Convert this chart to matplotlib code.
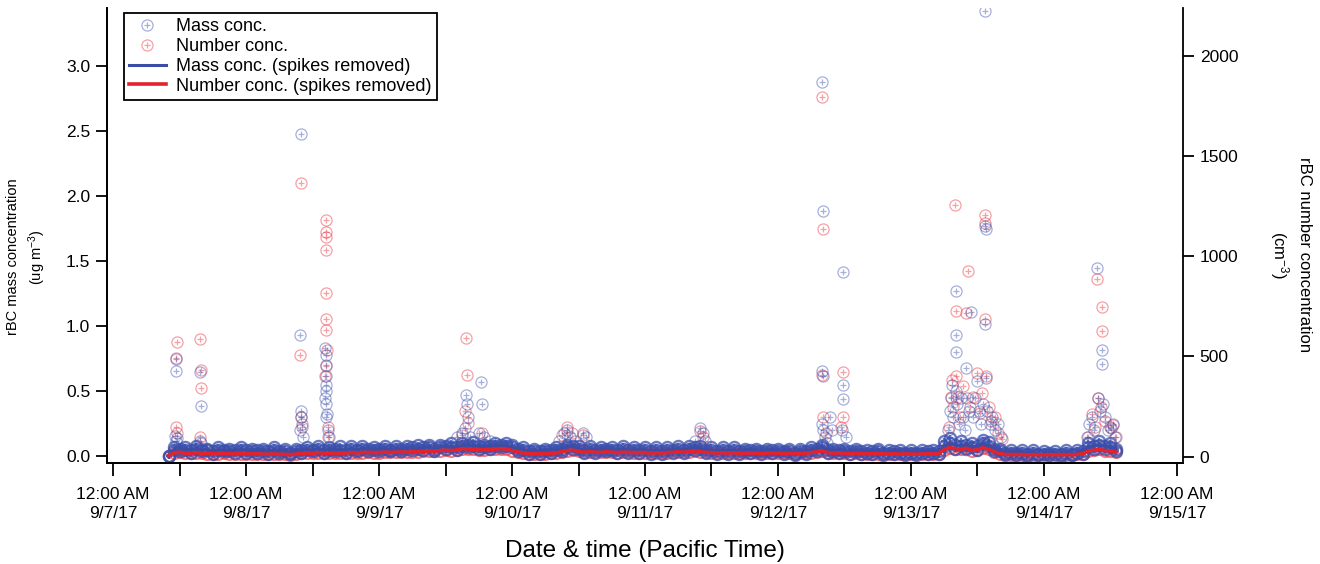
# -*- coding: utf-8 -*-
import numpy as np
import matplotlib
matplotlib.use("Agg")
import matplotlib.pyplot as plt
import matplotlib.dates as mdates
from matplotlib.ticker import FuncFormatter, MultipleLocator

plt.rcParams['font.family'] = ['Liberation Sans', 'DejaVu Sans']
plt.rcParams['mathtext.default'] = 'regular'

#time origin, hours are counted from 9/7/17 12:00 AM
start = np.datetime64('2017-09-07T00:00')

#hourly background values (9/7 10h ... 9/14 13h)
base_hours = np.arange(10, 182)
mass_base = [
    0.00, 0.05, 0.06, 0.05, 0.05, 0.06, 0.05, 0.05, 0.04, 0.05, 0.05, 0.04, 0.05, 0.05,
    0.05, 0.04, 0.05, 0.04, 0.04, 0.05, 0.04, 0.04, 0.03, 0.04, 0.05, 0.05,
    0.05, 0.06, 0.05, 0.05, 0.06, 0.05, 0.05, 0.06, 0.05, 0.06, 0.06, 0.05,
    0.06, 0.06, 0.05, 0.06, 0.06, 0.06, 0.07, 0.06, 0.07, 0.07, 0.06, 0.07,
    0.08, 0.07, 0.07, 0.08, 0.09, 0.08, 0.08, 0.07, 0.08, 0.08, 0.09, 0.08,
    0.07, 0.06, 0.05, 0.04, 0.04, 0.04, 0.04, 0.05, 0.05, 0.06, 0.07, 0.08,
    0.06, 0.05, 0.06, 0.05, 0.05, 0.06, 0.05, 0.05, 0.06, 0.05, 0.05, 0.05,
    0.05, 0.04, 0.05, 0.04, 0.05, 0.05, 0.06, 0.05, 0.06, 0.07, 0.06, 0.05,
    0.05, 0.04, 0.05, 0.04, 0.05, 0.04, 0.04, 0.05, 0.04, 0.04, 0.04, 0.05,
    0.04, 0.04, 0.04, 0.03, 0.04, 0.04, 0.05, 0.06, 0.07, 0.05, 0.04, 0.05,
    0.04, 0.04, 0.04, 0.04, 0.03, 0.04, 0.04, 0.03, 0.03, 0.04, 0.03, 0.03,
    0.03, 0.03, 0.03, 0.04, 0.03, 0.04, 0.08, 0.10, 0.09, 0.08, 0.09, 0.07,
    0.08, 0.10, 0.08, 0.06, 0.04, 0.03, 0.03, 0.03, 0.03, 0.02, 0.03, 0.02,
    0.02, 0.03, 0.02, 0.02, 0.03, 0.02, 0.03, 0.04, 0.07, 0.08, 0.09, 0.08, 0.07, 0.06]
#hourly raw scatter around the background
mass_raw = [
    0.00, 0.07, 0.04, 0.07, 0.03, 0.08, 0.04, 0.06, 0.02, 0.07, 0.04, 0.06, 0.03, 0.07,
    0.03, 0.06, 0.03, 0.06, 0.02, 0.07, 0.03, 0.06, 0.02, 0.06, 0.03, 0.07,
    0.04, 0.08, 0.03, 0.07, 0.04, 0.08, 0.03, 0.08, 0.04, 0.08, 0.04, 0.07,
    0.04, 0.08, 0.04, 0.08, 0.04, 0.08, 0.05, 0.09, 0.05, 0.09, 0.04, 0.09,
    0.06, 0.10, 0.05, 0.10, 0.07, 0.11, 0.06, 0.09, 0.06, 0.10, 0.07, 0.10,
    0.09, 0.04, 0.07, 0.02, 0.06, 0.02, 0.06, 0.03, 0.07, 0.04, 0.09, 0.06,
    0.08, 0.03, 0.08, 0.03, 0.07, 0.04, 0.07, 0.03, 0.08, 0.03, 0.07, 0.03,
    0.07, 0.02, 0.07, 0.02, 0.07, 0.03, 0.08, 0.03, 0.08, 0.05, 0.08, 0.03,
    0.07, 0.02, 0.07, 0.02, 0.07, 0.02, 0.06, 0.03, 0.06, 0.02, 0.06, 0.03,
    0.06, 0.02, 0.06, 0.01, 0.06, 0.02, 0.07, 0.04, 0.09, 0.03, 0.06, 0.03,
    0.06, 0.02, 0.06, 0.02, 0.05, 0.02, 0.06, 0.01, 0.05, 0.02, 0.05, 0.01,
    0.05, 0.01, 0.05, 0.02, 0.05, 0.02, 0.12, 0.14, 0.06, 0.12, 0.06, 0.10,
    0.05, 0.13, 0.11, 0.04, 0.06, 0.01, 0.05, 0.01, 0.05, 0.00, 0.05, 0.01,
    0.04, 0.01, 0.04, 0.00, 0.05, 0.01, 0.05, 0.02, 0.10, 0.06, 0.12, 0.06, 0.10, 0.04]
num_base = [
    5, 18, 22, 17, 16, 20, 16, 15, 14, 15, 16, 14, 15, 15,
    14, 13, 14, 12, 12, 13, 12, 11, 10, 12, 16, 18,
    16, 20, 17, 16, 18, 17, 18, 20, 19, 20, 21, 20,
    20, 22, 21, 22, 23, 22, 25, 24, 26, 28, 27, 30,
    32, 30, 33, 40, 38, 36, 35, 34, 36, 38, 40, 38,
    30, 24, 18, 15, 14, 14, 15, 17, 18, 25, 30, 32,
    26, 22, 24, 22, 21, 24, 22, 20, 22, 21, 20, 20,
    20, 18, 19, 18, 20, 21, 24, 22, 25, 28, 24, 21,
    20, 18, 19, 18, 19, 17, 17, 18, 17, 16, 17, 18,
    17, 16, 16, 15, 16, 17, 20, 24, 28, 20, 17, 19,
    16, 15, 16, 15, 14, 15, 15, 14, 13, 14, 13, 13,
    13, 12, 13, 14, 13, 15, 35, 45, 40, 36, 42, 30,
    35, 44, 36, 25, 15, 11, 10, 10, 10, 9, 10, 9,
    9, 10, 9, 9, 10, 9, 11, 14, 28, 32, 36, 30, 28, 22]

#spikes in mass conc. (hour, ug m-3)
mass_spike_hours = [
    11.2, 11.4, 11.4, 11.3, 11.6, 15.7, 15.8, 15.6, 15.9,
    33.9, 33.8, 34.0, 33.9, 34.1, 33.8, 34.2,
    38.3, 38.4, 38.5, 38.4, 38.5, 38.4, 38.3, 38.5, 38.6, 38.4, 38.7, 38.9,
    62.0, 63.0, 63.7, 63.8, 64.0, 63.5, 64.5, 66.4, 66.6, 66.0, 67.0, 68.0,
    80.5, 81.3, 81.9, 82.4, 83.4, 84.9, 85.4,
    105.0, 105.9, 106.4, 106.9,
    128.0, 128.1, 128.0, 128.1, 127.9, 128.2, 128.5, 128.8, 129.4, 129.7,
    131.7, 131.8, 131.7, 131.5, 132.2,
    150.7, 151.0, 151.2, 151.4, 151.6, 152.1, 152.1, 152.1, 152.2, 152.4, 152.7, 153.0,
    153.4, 153.7, 153.9, 154.1, 154.4, 154.8, 155.2, 155.6, 155.9, 156.2, 156.6, 157.0,
    157.4, 157.4, 157.5, 157.4, 157.6, 157.8, 158.2, 158.7, 159.2, 159.7, 160.2,
    175.7, 176.2, 176.7, 177.1, 177.6, 178.5, 178.5, 177.8, 178.1, 178.7, 179.1, 179.6,
    180.1, 180.5, 180.9]
mass_spike = [
    0.16, 0.66, 0.75, 0.12, 0.14, 0.65, 0.39, 0.12, 0.10,
    2.48, 0.93, 0.35, 0.30, 0.25, 0.20, 0.15,
    0.83, 0.78, 0.70, 0.62, 0.55, 0.50, 0.45, 0.40, 0.33, 0.30, 0.20, 0.15,
    0.15, 0.18, 0.47, 0.40, 0.30, 0.22, 0.15, 0.57, 0.40, 0.18, 0.15, 0.12,
    0.12, 0.18, 0.20, 0.15, 0.12, 0.18, 0.15,
    0.12, 0.22, 0.18, 0.12,
    2.88, 1.89, 0.66, 0.62, 0.25, 0.20, 0.15, 0.10, 0.30, 0.20,
    1.42, 0.55, 0.44, 0.20, 0.15,
    0.20, 0.35, 0.45, 0.55, 0.30, 1.27, 0.93, 0.80, 0.50, 0.40, 0.25, 0.45,
    0.30, 0.20, 0.68, 0.45, 0.35, 1.11, 0.30, 0.45, 0.58, 0.35, 0.25, 0.40,
    3.42, 1.77, 1.75, 1.02, 0.60, 0.35, 0.25, 0.30, 0.20, 0.25, 0.15,
    0.15, 0.25, 0.30, 0.20, 1.45, 0.82, 0.71, 0.45, 0.35, 0.40, 0.30, 0.20,
    0.22, 0.25, 0.15]

#spikes in number conc. (hour, cm-3)
num_spike_hours = [
    11.3, 11.4, 11.5, 11.6, 15.7, 15.8, 15.9, 15.7,
    33.9, 33.8, 34.0, 34.1,
    38.4, 38.4, 38.5, 38.4, 38.4, 38.5, 38.4, 38.6, 38.5, 38.3, 38.7, 38.8,
    63.7, 63.8, 63.5, 64.0, 63.0, 66.5,
    81.0, 81.9, 82.9, 84.9, 105.9, 106.4,
    128.0, 128.1, 128.0, 128.2, 128.6, 131.7, 131.8, 131.4,
    150.8, 151.2, 151.4, 151.6, 152.0, 152.1, 152.2, 152.5, 152.9, 153.4, 153.9, 154.3,
    154.6, 155.2, 155.9, 156.4, 156.8, 157.3, 157.4, 157.4, 157.6, 158.0, 158.5, 159.2,
    159.8, 160.4,
    176.0, 176.7, 177.2, 177.6, 178.5, 178.5, 177.8, 178.3, 179.1, 179.9, 180.5, 181.0]
num_spike = [
    150, 490, 570, 120, 585, 430, 345, 100,
    1365, 505, 200, 150,
    1180, 1120, 1095, 1030, 815, 685, 630, 530, 450, 400, 150, 100,
    590, 405, 230, 170, 110, 120,
    110, 150, 120, 110, 130, 100,
    1795, 1135, 405, 200, 120, 420, 200, 150,
    150, 300, 380, 250, 1255, 725, 400, 300, 200, 350, 715, 925,
    250, 300, 415, 220, 320, 1205, 1165, 685, 400, 250, 180, 200,
    120, 90,
    100, 215, 150, 885, 745, 625, 295, 250, 180, 150, 160, 100]


def to_time(hours):
    sec = np.round(np.asarray(hours, dtype=float) * 3600).astype(np.int64)
    return start + sec.astype('timedelta64[s]')


def date_label(x, pos):
    d = mdates.num2date(x)
    return "12:00 AM\n{}/{}/{}".format(d.month, d.day, d.year % 100)


#colors
blue_pt = '#3a4fae'
red_pt = '#ea2d38'
blue_ln = '#3a4ea6'
red_ln = '#e3222c'

t_base = to_time(base_hours)

#figure create
fig = plt.figure(figsize=(13.2, 5.64), dpi=100)
ax = fig.add_axes([107/1320, 1-463/564, (1183-107)/1320, (463-8)/564])
ax2 = ax.twinx()
ax.set_ylim(-0.05, 3.446)
ax2.set_ylim(-32, 2240)
ax.set_xlim(start - np.timedelta64(66, 'm'), start + np.timedelta64(8 * 24 * 60 + 66, 'm'))


def circle_plus(t, v, color, z, alpha=0.45, mew=0.9, **kw):
    #open circle with a plus inside
    c, = ax.plot(t, v, ls='none', marker='o', ms=8, mfc='none', mec=color,
                 mew=mew, alpha=alpha, zorder=z, **kw)
    p, = ax.plot(t, v, ls='none', marker='+', ms=5, mec=color,
                 mew=mew, alpha=alpha, zorder=z, **kw)
    return (c, p)


#number conc. drawn on ax with the right-axis scale so the order of layers is free
hn = circle_plus(to_time(num_spike_hours), num_spike, red_pt, 2, transform=ax2.transData)
circle_plus(t_base, num_base, red_pt, 2, alpha=0.6, mew=1.5, transform=ax2.transData)
hm = circle_plus(to_time(mass_spike_hours), mass_spike, blue_pt, 3)
#dense background: many overlapping points, so drawn darker
circle_plus(t_base, mass_base, blue_pt, 3, alpha=0.75, mew=1.7)
circle_plus(t_base, mass_raw, blue_pt, 3, alpha=0.75, mew=1.7)
lm, = ax.plot(t_base, mass_base, color=blue_ln, lw=2.2, zorder=4)
ln, = ax.plot(t_base, num_base, color=red_ln, lw=2.6, zorder=5, transform=ax2.transData)

#axes style
for a in (ax, ax2):
    a.spines['top'].set_visible(False)
    for s in a.spines.values():
        s.set_linewidth(1.3)
ax.spines['right'].set_visible(False)

ax.yaxis.set_major_locator(MultipleLocator(0.5))
ax.yaxis.set_major_formatter(FuncFormatter(lambda v, p: "{:.1f}".format(v)))
ax2.yaxis.set_major_locator(MultipleLocator(500))

ax.xaxis.set_major_locator(mdates.DayLocator())
ax.xaxis.set_minor_locator(mdates.HourLocator(byhour=[12]))
ax.xaxis.set_major_formatter(FuncFormatter(date_label))

ax.tick_params(axis='y', direction='out', length=8, width=1.3, labelsize=12.5, pad=4)
ax2.tick_params(axis='y', direction='out', length=8, width=1.3, labelsize=12.5, pad=4)
ax.tick_params(axis='x', which='both', direction='out', length=9, width=1.3,
               labelsize=12.5, pad=8)

ax.set_xlabel("Date & time (Pacific Time)", fontsize=17.5, labelpad=14)

fig.text(27/1320, 1-257/564, "rBC mass concentration\n(ug m$^{-3}$)", rotation=90,
         ha='center', va='center', multialignment='center', fontsize=10.5,
         linespacing=1.35)
fig.text(1290/1320, 1-255/564, "rBC number concentration\n(cm$^{-3}$)", rotation=270,
         ha='center', va='center', multialignment='center', fontsize=12,
         linespacing=1.35)

#legend
leg = ax.legend([hm, hn, lm, ln],
                ['Mass conc.', 'Number conc.', 'Mass conc. (spikes removed)',
                 'Number conc. (spikes removed)'],
                loc='upper left', bbox_to_anchor=(124/1320, 1-13/564),
                bbox_transform=fig.transFigure, borderaxespad=0, fontsize=13,
                fancybox=False, framealpha=1, edgecolor='black', handlelength=2.0,
                handletextpad=0.6, labelspacing=0.15, borderpad=0.3)
leg.get_frame().set_linewidth(1.3)
leg.set_zorder(10)

fig.canvas.draw()
for tick in ax.xaxis.get_major_ticks():
    tick.label1.set_linespacing(1.35)

fig.savefig("out.png", dpi=100)
